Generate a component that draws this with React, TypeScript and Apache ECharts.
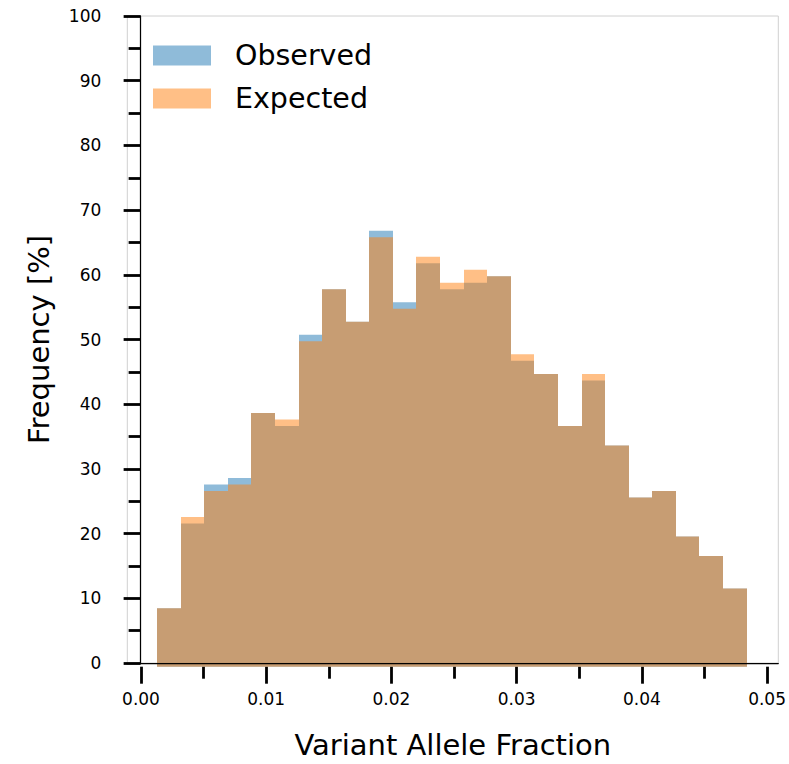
import React, { useEffect, useRef } from "react";
import * as echarts from "echarts";

// Histogram bins (Variant Allele Fraction)
const binStart = 0.00129;
const binWidth = 0.0018828;
const observed = [9, 22, 28, 29, 39, 37, 51, 58, 53, 67, 56, 62, 58, 59, 60, 47, 45, 37, 44, 34, 26, 27, 20, 17, 12];
const expected = [9, 23, 27, 28, 39, 38, 50, 58, 53, 66, 55, 63, 59, 61, 60, 48, 45, 37, 45, 34, 26, 27, 20, 17, 12];
const xTickMin = 0;
const xTickMax = 0.05;
const xTickStep = 0.01;
const yTickMin = 0;
const yTickMax = 100;
const yTickStep = 10;
const seriesNames = ["Observed", "Expected"];

const FONT = "DejaVu Sans";
const BLUE = "rgba(31,119,180,0.5)";
const ORANGE = "rgba(255,127,14,0.5)";

function toBins(values: number[]) {
  return values.map((v, i) => [binStart + i * binWidth, binStart + (i + 1) * binWidth, v]);
}

function rectItem(color: string) {
  return (params: any, api: any) => {
    const x0 = api.value(0);
    const x1 = api.value(1);
    const y = api.value(2);
    const p0 = api.coord([x0, y]);
    const p1 = api.coord([x1, 0]);
    const left = Math.round(p0[0]);
    const right = Math.round(p1[0]);
    return {
      type: "rect",
      shape: { x: left, y: p0[1], width: right - left, height: p1[1] - p0[1] },
      style: { fill: color },
    };
  };
}

export default function App() {
  const ref = useRef<HTMLDivElement>(null);
  useEffect(() => {
    if (!ref.current) return;
    const chart = echarts.init(ref.current, undefined, { renderer: "svg" });
    const frameLeft = 127.3;
    const frameRight = 789 - 778.3;
    const top = 16;
    const bottom = 764 - 666.7;
    const tickStyle = { color: "#000", width: 2.8 };
    chart.setOption({
      animation: false,
      backgroundColor: "#ffffff",
      textStyle: { fontFamily: FONT },
      legend: {
        orient: "vertical",
        left: 153,
        top: 41,
        padding: 0,
        itemWidth: 58,
        itemHeight: 20,
        itemGap: 14,
        icon: "rect",
        data: seriesNames,
        textStyle: { fontFamily: FONT, fontSize: 28.5, color: "#000", padding: [0, 0, 0, 19] },
      },
      grid: [
        { left: frameLeft, right: frameRight, top, bottom, show: true, borderColor: "#d0d0d0", borderWidth: 1, backgroundColor: "transparent" },
        { left: 141, right: 789 - 769.3, top, bottom },
      ],
      xAxis: [
        {
          type: "value",
          gridIndex: 0,
          z: 10,
          min: -0.00106,
          max: 0.05071,
          axisLine: { show: true, lineStyle: { color: "#000", width: 1.25 } },
          axisTick: { show: false },
          axisLabel: { show: false },
          splitLine: { show: false },
          name: "Variant Allele Fraction",
          nameLocation: "middle",
          nameGap: 67,
          nameTextStyle: { fontFamily: FONT, fontSize: 29, color: "#000" },
        },
        {
          type: "value",
          gridIndex: 1,
          min: xTickMin,
          max: xTickMax,
          interval: xTickStep,
          axisLine: { show: false },
          axisTick: { show: true, length: 17, lineStyle: tickStyle },
          minorTick: { show: true, splitNumber: 2, length: 12, lineStyle: tickStyle },
          axisLabel: {
            show: true,
            margin: 24,
            fontFamily: FONT,
            fontSize: 17,
            color: "#000",
            formatter: (v: number) => v.toFixed(2),
          },
          splitLine: { show: false },
          minorSplitLine: { show: false },
        },
      ],
      yAxis: [
        {
          type: "value",
          gridIndex: 0,
          z: 10,
          min: yTickMin,
          max: yTickMax,
          interval: yTickStep,
          axisLine: { show: true, lineStyle: { color: "#000", width: 1.25 } },
          axisTick: { show: true, length: 17, lineStyle: tickStyle },
          minorTick: { show: true, splitNumber: 2, length: 12, lineStyle: tickStyle },
          axisLabel: { show: true, margin: 26, fontFamily: FONT, fontSize: 17, color: "#000", padding: [4, 0, 0, 0] },
          splitLine: { show: false },
          minorSplitLine: { show: false },
          name: "Frequency [%]",
          nameLocation: "middle",
          nameGap: 74,
          nameRotate: 90,
          nameTextStyle: { fontFamily: FONT, fontSize: 29, color: "#000" },
        },
        {
          type: "value",
          gridIndex: 1,
          min: yTickMin,
          max: yTickMax,
          show: false,
          splitLine: { show: false },
        },
      ],
      series: [
        {
          name: seriesNames[0],
          type: "custom",
          xAxisIndex: 1,
          yAxisIndex: 1,
          itemStyle: { color: BLUE },
          encode: { x: [0, 1], y: 2 },
          data: toBins(observed),
          renderItem: rectItem(BLUE),
        },
        {
          name: seriesNames[1],
          type: "custom",
          xAxisIndex: 1,
          yAxisIndex: 1,
          itemStyle: { color: ORANGE },
          encode: { x: [0, 1], y: 2 },
          data: toBins(expected),
          renderItem: rectItem(ORANGE),
        },
      ],
    });
    return () => chart.dispose();
  }, []);
  return <div ref={ref} style={{ position: "fixed", left: 0, top: 0, width: 789, height: 764 }} />;
}
